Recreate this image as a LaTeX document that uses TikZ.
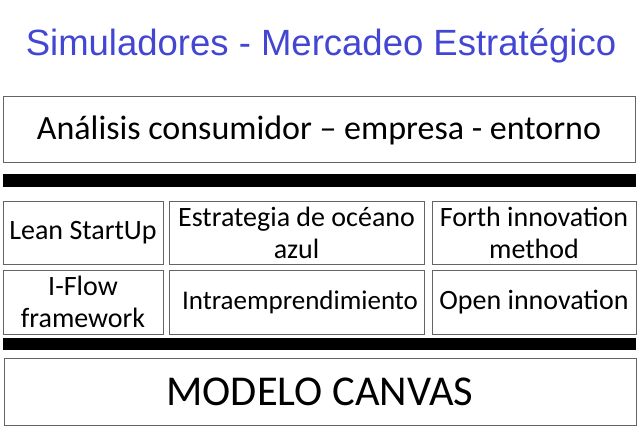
\documentclass[tikz,border=0pt]{standalone}
\usepackage{fontspec}
\setmainfont{Carlito}
\newfontfamily\titlefont{Liberation Sans}
\definecolor{titleblue}{RGB}{66,70,210}
\definecolor{boxline}{RGB}{100,100,100}
\begin{document}
\begin{tikzpicture}[x=1pt,y=-1pt,
  box/.style={draw=boxline,line width=1pt,inner sep=0pt,align=center,text=black},
  small/.style={font={\fontsize{28}{32}\selectfont}},
  bar/.style={fill=black,draw=none}]
\useasboundingbox (0,0) rectangle (640,441);
\node[text=titleblue,font={\titlefont\fontsize{36.5}{40}\selectfont}] (title) at (321,46) {Simuladores - Mercadeo Estratégico};
% top box
\node[box,minimum width=632pt,minimum height=66pt,font={\fontsize{34}{38}\selectfont}] (top) at (319,130) {Análisis consumidor – empresa - entorno};
\fill[bar] (3,174) rectangle (636,187);
% row 1
\node[box,small,minimum width=160pt,minimum height=63pt] (lean) at (83,232.5) {Lean StartUp};
\node[box,small,minimum width=255pt,minimum height=63pt] (oceano) at (296.5,232.5) {Estrategia de océano\\azul};
\node[box,small,minimum width=204pt,minimum height=63pt] (forth) at (534,232.5) {Forth innovation\\method};
% row 2
\node[box,small,minimum width=160pt,minimum height=64pt] (iflow) at (83,302) {I-Flow\\framework};
\node[box,minimum width=255pt,minimum height=64pt,font={\fontsize{27}{32}\selectfont}] (intra) at (296.5,302) {\hspace*{7pt}Intraemprendimiento};
\node[box,small,minimum width=204pt,minimum height=64pt] (open) at (534,302) {Open innovation};
\fill[bar] (3,338) rectangle (636,350);
% bottom box
\node[box,minimum width=632pt,minimum height=67pt,font={\fontsize{42.5}{48}\selectfont}] (canvas) at (320,391.5) {MODELO CANVAS};
\end{tikzpicture}
\end{document}
